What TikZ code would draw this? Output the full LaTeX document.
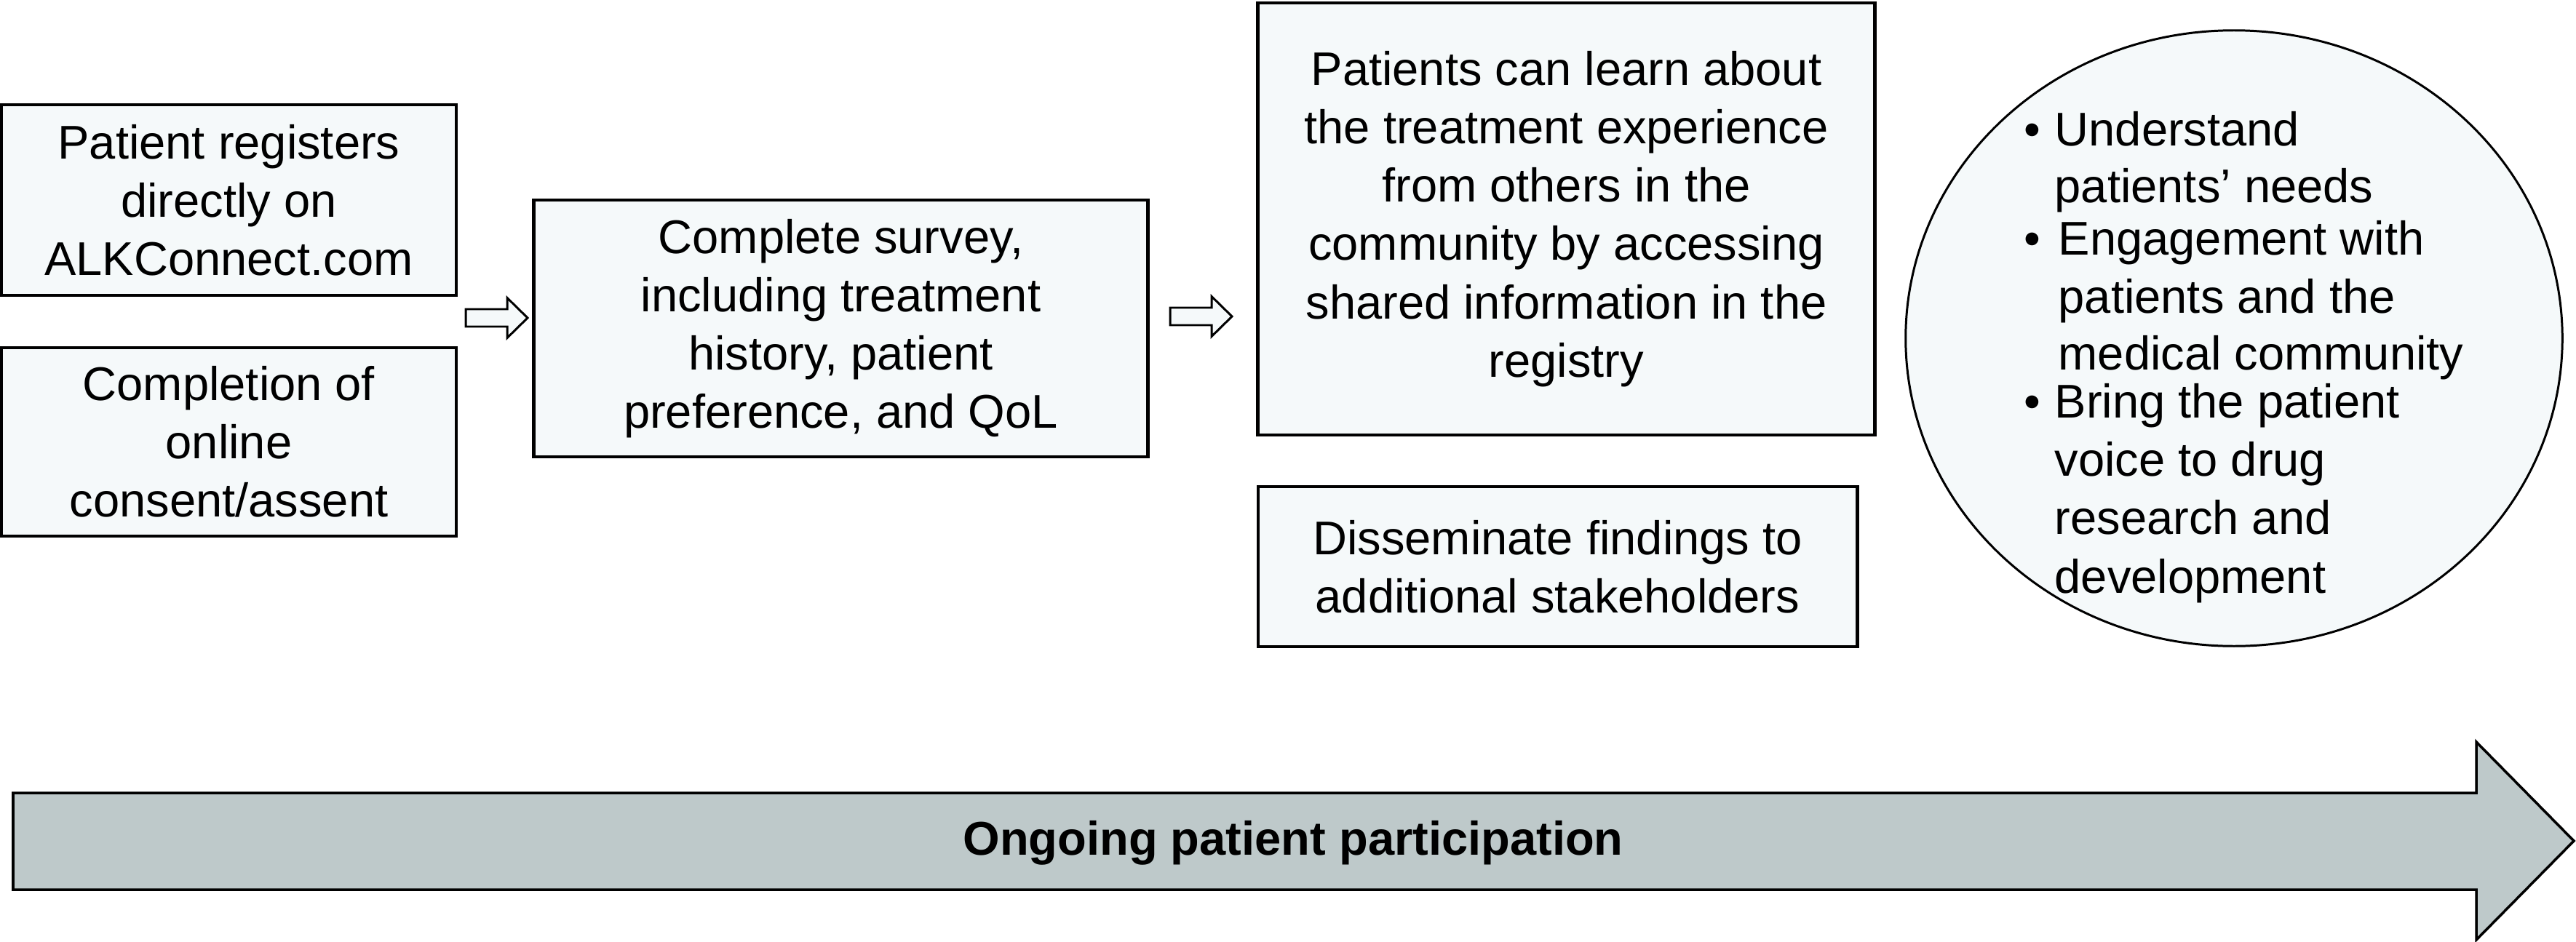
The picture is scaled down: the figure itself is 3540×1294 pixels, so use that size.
\documentclass[tikz,border=0pt]{standalone}
\usepackage{fontspec}
\setmainfont{Liberation Sans}
\usetikzlibrary{shapes.geometric}
\definecolor{boxfill}{RGB}{245,249,250}
\definecolor{bandgrey}{RGB}{190,201,202}
\tikzset{
  txt/.style={font=\fontsize{18.5pt}{22.8pt}\selectfont},
  stepbox/.style={draw=black, line width=1.3pt, fill=boxfill, inner sep=0pt, align=center, txt},
  arrowline/.style={draw=black, line width=0.85pt, fill=boxfill, line join=miter},
  gline/.style={txt, anchor=base west, inner sep=0pt},
  gbullet/.style={txt, anchor=base, inner sep=0pt},
  pics/blockarrow/.style={code={\path[arrowline] (0,-12) -- (57,-12) -- (57,-27.5) -- (85,0) -- (57,27.5) -- (57,12) -- (0,12) -- cycle;}},
}
\begin{document}
\begin{tikzpicture}[x=0.01cm,y=-0.01cm]
\useasboundingbox (0,0) rectangle (3540,1294);

% left column
\node[stepbox, minimum width=6.25cm, minimum height=2.62cm] (reg) at (314.5,275)
  {Patient registers\\directly on\\ALKConnect.com};
\node[stepbox, minimum width=6.25cm, minimum height=2.59cm] (consent) at (314.5,607.5)
  {Completion of\\online\\consent/assent};

% survey
\node[stepbox, minimum width=8.43cm, minimum height=3.53cm] (survey) at (1155.5,451.5)
  {Complete survey,\\including treatment\\history, patient\\preference, and QoL};

% learn & disseminate
\node[stepbox, minimum width=8.47cm, minimum height=5.94cm] (learn) at (2152.5,301)
  {Patients can learn about\\the treatment experience\\from others in the\\community by accessing\\shared information in the\\registry};
\node[stepbox, minimum width=8.23cm, minimum height=2.20cm] (dissem) at (2140.5,779)
  {Disseminate findings to\\additional stakeholders};

% block arrows
\coordinate (a1) at (640,437);
\coordinate (a2) at (1608,435);
\pic at (a1) {blockarrow};
\pic at (a2) {blockarrow};

% goals ellipse
\node[ellipse, draw=black, line width=0.85pt, fill=boxfill, inner sep=0pt,
      minimum width=9.02cm, minimum height=8.46cm] (goals) at (3070,465) {};
\node[gbullet] (b1) at (2793,200) {•};
\node[gline] (g1) at (2823,200) {Understand};
\node[gline] (g2) at (2823,278) {patients’ needs};
\node[gbullet] (b2) at (2793,350) {•};
\node[gline] (g3) at (2828,350) {Engagement with};
\node[gline] (g4) at (2828,430) {patients and the};
\node[gline] (g5) at (2828,508) {medical community};
\node[gbullet] (b3) at (2793,574) {•};
\node[gline] (g6) at (2823,574) {Bring the patient};
\node[gline] (g7) at (2823,654) {voice to drug};
\node[gline] (g8) at (2823,734) {research and};
\node[gline] (g9) at (2823,815) {development};

% ongoing participation band
\path[draw=black, line width=1pt, fill=bandgrey, line join=miter]
  (18,1090) -- (3403,1090) -- (3403,1020) -- (3537,1156) -- (3403,1292) -- (3403,1223) -- (18,1223) -- cycle;
\node[txt, font=\fontsize{18.5pt}{22.8pt}\selectfont\bfseries, anchor=base, inner sep=0pt] (ongoing) at (1777,1175)
  {Ongoing patient participation};
\end{tikzpicture}
\end{document}
